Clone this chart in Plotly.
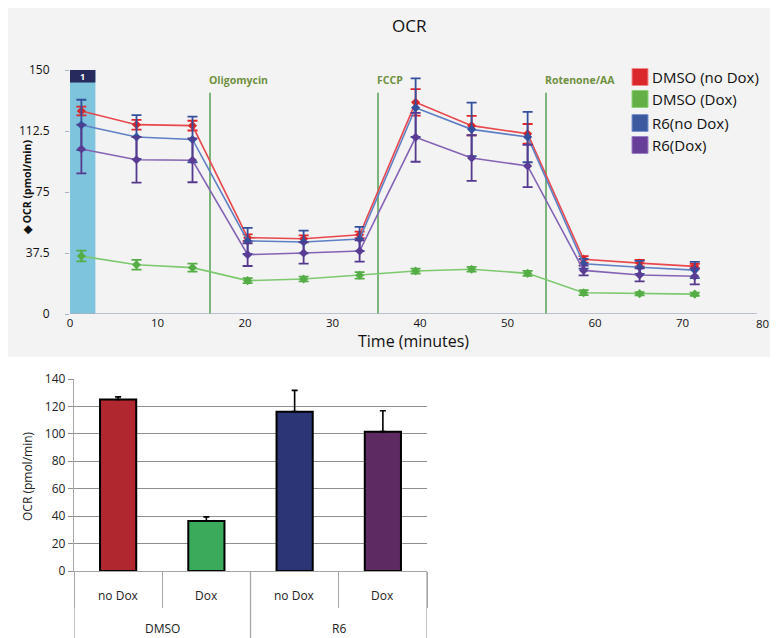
import plotly.graph_objects as go

# the page body adds an 8px offset; the figure fills the rest of the window
OFF = 8
W, H = 778 - OFF, 638 - OFF
def px(x): return (x - OFF) / W
def py(y): return 1 - (y - OFF) / H

FONT = "Open Sans"

# ---------------- data: time course (top panel) ----------------
time_min = [1.3, 7.6, 14.0, 20.3, 26.7, 33.1, 39.5, 45.9, 52.3, 58.7, 65.1, 71.4]
dmso_nodox = [124.8, 116.4, 115.8, 46.9, 46.3, 48.7, 130.1, 115.8, 110.8, 33.6, 31.3, 29.3]
dmso_nodox_err = [2.7, 3.0, 3.0, 2.0, 2.0, 2.0, 8.2, 6.0, 6.0, 2.0, 2.0, 1.5]
dmso_dox = [35.6, 30.3, 28.5, 20.5, 21.5, 23.8, 26.4, 27.5, 25.0, 13.1, 12.5, 12.2]
dmso_dox_err = [3.3, 3.0, 2.5, 1.5, 1.5, 2.0, 1.5, 1.5, 1.5, 1.5, 1.0, 1.0]
r6_nodox = [116.2, 108.8, 107.3, 44.9, 44.3, 46.1, 126.8, 113.5, 108.8, 30.9, 28.7, 27.0]
r6_nodox_err = [15.5, 13.5, 14.0, 8.0, 7.0, 7.5, 18.0, 16.5, 15.5, 3.0, 4.0, 5.0]
r6_dox = [101.4, 94.8, 94.5, 36.5, 37.5, 38.7, 108.6, 95.9, 91.0, 26.8, 24.0, 23.2]
r6_dox_err = [15.0, 14.0, 13.5, 7.0, 6.5, 6.5, 15.0, 14.0, 13.0, 3.0, 4.0, 5.0]

series_names = ["DMSO (no Dox)", "DMSO (Dox)", "R6(no Dox)", "R6(Dox)"]
series_vals = [dmso_nodox, dmso_dox, r6_nodox, r6_dox]
series_errs = [dmso_nodox_err, dmso_dox_err, r6_nodox_err, r6_dox_err]
line_colors = ["#e8474c", "#7cc96e", "#5f7fc4", "#8463b4"]
marker_colors = ["#d9262b", "#55ad45", "#34509c", "#5b3c94"]
err_colors = ["#e0262b", "#55ad45", "#34509c", "#55398e"]
swatch_colors = ["#d9272c", "#63b047", "#3b5aa0", "#673e98"]
swatch_borders = ["#f28a8a", "#8fd07a", "#7f95cc", "#9a80c4"]

injection_times = [16.0, 35.2, 54.4]
injection_labels = ["Oligomycin", "FCCP", "Rotenone/AA"]

y_tickvals = [0, 37.5, 75, 112.5, 150]
y_ticktext = ["0", "37.5", "75", "112.5", "150"]
x_tickvals = [0, 10, 20, 30, 40, 50, 60, 70, 80]

# ---------------- data: bar chart (bottom panel) ----------------
bar_groups = ["DMSO", "DMSO", "R6", "R6"]
bar_conditions = ["no Dox", "Dox", "no Dox", "Dox"]
bar_values = [125.0, 36.5, 116.2, 101.6]
bar_errors = [2.0, 3.0, 15.5, 15.3]
bar_colors = ["#b0272f", "#3aab5a", "#2c3676", "#5e2a62"]
group_names = ["DMSO", "R6"]

fig = go.Figure()

# top panel traces
for name, vals, errs, lc, mc, ec in zip(series_names, series_vals, series_errs,
                                         line_colors, marker_colors, err_colors):
    fig.add_trace(go.Scatter(
        x=time_min, y=vals, name=name, mode="lines+markers",
        line=dict(color=lc, width=1.6),
        marker=dict(color=mc, size=7, symbol="diamond"),
        error_y=dict(type="data", array=errs, visible=True, color=ec,
                     thickness=1.8, width=5),
        showlegend=False, xaxis="x", yaxis="y"))

# bottom panel bars
bar_x = list(range(len(bar_values)))
fig.add_trace(go.Bar(
    x=bar_x, y=bar_values, width=0.41,
    marker=dict(color=bar_colors, line=dict(color="black", width=2)),
    error_y=dict(type="data", array=bar_errors, arrayminus=[0] * len(bar_errors),
                 symmetric=False, color="black", thickness=1.6, width=3),
    showlegend=False, xaxis="x2", yaxis="y2"))

shapes = []
annotations = []

def note(x, y, text, size, color="#111", xref="paper", yref="paper", **kw):
    d = dict(x=x, y=y, xref=xref, yref=yref, text=text, showarrow=False,
             xanchor="center", yanchor="middle",
             font=dict(family=FONT, size=size, color=color))
    d.update(kw)
    annotations.append(d)

# gray panel behind the top chart
shapes.append(dict(type="rect", xref="paper", yref="paper",
                   x0=px(8), x1=1.0, y0=py(357), y1=py(7),
                   fillcolor="#f3f3f3", line=dict(width=0), layer="below"))

# blue baseline band with header
shapes.append(dict(type="rect", xref="x", yref="y", x0=0, x1=2.9, y0=0, y1=150,
                   fillcolor="#7ec4dc", line=dict(width=0), layer="below"))
shapes.append(dict(type="rect", xref="x", yref="y", x0=0, x1=2.9, y0=142.3, y1=150,
                   fillcolor="#262a5c", line=dict(width=0), layer="below"))
note(1.45, 146.2, "<b>1</b>", 9, "white", xref="x", yref="y")

# injection lines and labels
for t, lab in zip(injection_times, injection_labels):
    shapes.append(dict(type="line", xref="x", yref="y", x0=t, x1=t, y0=0, y1=136,
                       line=dict(color="#5da55d", width=1.6), layer="below"))
    note(t, 144, "<b>%s</b>" % lab, 10.5, "#6f9040", xref="x", yref="y",
         xanchor="left", xshift=-3)

# x axis line of the top chart
shapes.append(dict(type="line", xref="x", yref="y", x0=0, x1=78.5, y0=0, y1=0,
                   line=dict(color="#a9b1c2", width=1.5)))

# last x tick label sits at the window edge: right-align it so it stays visible
note(x_tickvals[-1], 0, str(x_tickvals[-1]), 11.5, xref="x", yref="y",
     xanchor="right", yanchor="middle", xshift=1, yshift=-9)

# manual legend
legend_rows = [77, 99, 123, 145]
for name, sc, sb, ry in zip(series_names, swatch_colors, swatch_borders, legend_rows):
    shapes.append(dict(type="rect", xref="paper", yref="paper",
                       x0=px(632), x1=px(648), y0=py(ry + 8.5), y1=py(ry - 8.5),
                       fillcolor=sc, line=dict(color=sb, width=1)))
    note(px(650), py(ry), name, 15, xanchor="left")

# top titles
note(px(409), py(25), "OCR", 17)
note(px(413), py(341), "Time (minutes)", 16)
note(px(27), py(188), "<b>◆ OCR (pmol/min)</b>", 10.5, textangle=-90)

# bottom panel: category dividers and labels
for b in [-0.5, 1.5, 3.5]:
    shapes.append(dict(type="line", xref="x2", yref="paper", x0=b, x1=b,
                       y0=0, y1=py(571), line=dict(color="#a6a6a6", width=1.3)))
for xi, cond in zip(bar_x, bar_conditions):
    note(xi, py(595), cond, 12, "#222", xref="x2")
for g in group_names:
    members = [xi for xi, gg in zip(bar_x, bar_groups) if gg == g]
    note(sum(members) / len(members), py(628), g, 12, "#222", xref="x2")
note(px(27), py(476), "OCR (pmol/min)", 12, "#222", textangle=-90)

fig.update_layout(
    width=W, height=H, margin=dict(l=0, r=0, t=0, b=0, pad=0, autoexpand=False),
    paper_bgcolor="white", plot_bgcolor="rgba(0,0,0,0)",
    showlegend=False,
    xaxis=dict(domain=[px(70), px(770)], range=[0, 80], tickvals=x_tickvals[:-1],
               showgrid=False, zeroline=False, showline=False, ticks="",
               automargin=False,
               tickfont=dict(family=FONT, size=11.5, color="#111"), anchor="y"),
    yaxis=dict(domain=[py(314), py(70)], range=[0, 150], tickvals=y_tickvals,
               ticktext=y_ticktext, showgrid=False, zeroline=False, showline=False,
               ticks="outside", ticklen=4, tickcolor="#a9b1c2", ticklabelstandoff=13,
               automargin=False,
               tickfont=dict(family=FONT, size=12, color="#111"), anchor="x"),
    xaxis2=dict(domain=[px(74), px(427)], range=[-0.5, 3.5],
                tickvals=[-0.5, 0.5, 1.5, 2.5, 3.5], showticklabels=False,
                ticks="outside", ticklen=36, tickcolor="#a6a6a6", tickwidth=1.3,
                showgrid=False, zeroline=False, showline=True, linecolor="#a6a6a6",
                linewidth=1.3, anchor="y2", automargin=False),
    yaxis2=dict(domain=[py(571), py(379)], range=[0, 140], dtick=20,
                showgrid=True, gridcolor="#8f8f8f", gridwidth=1.3, zeroline=False,
                showline=True, linecolor="#a6a6a6", linewidth=1.3,
                ticks="outside", ticklen=5, tickcolor="#8f8f8f", automargin=False,
                tickfont=dict(family=FONT, size=12, color="#222"), anchor="x2"),
    shapes=shapes, annotations=annotations,
)

fig.write_html("out.html")
